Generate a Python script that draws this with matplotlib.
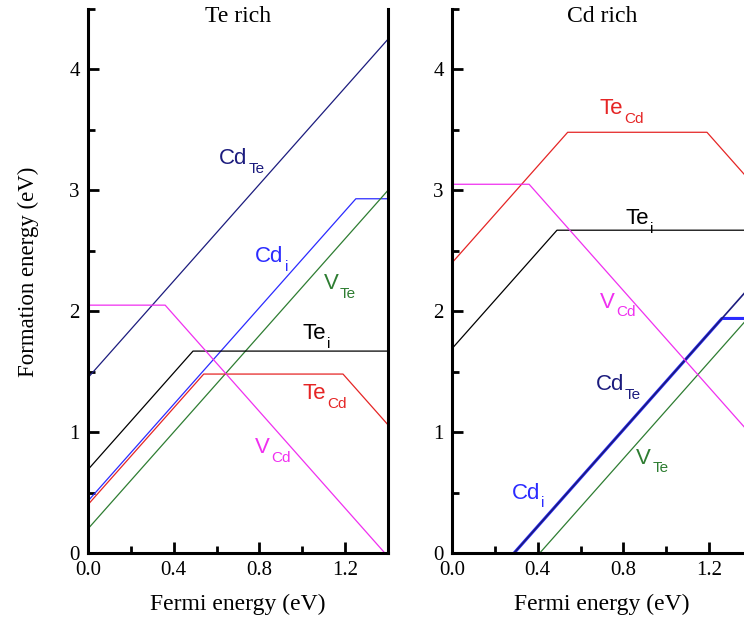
import numpy as np
import matplotlib
matplotlib.use("Agg")
import matplotlib.pyplot as plt
from matplotlib.ticker import MultipleLocator

# Fermi energy break points (eV) and formation energies (eV)
# Te rich
te_cdte_x = [0.0, 1.4]
te_cdte_y = [1.45, 4.25]
te_cdi_x = [0.0, 1.25, 1.4]
te_cdi_y = [0.43, 2.93, 2.93]
te_vte_x = [0.0, 1.4]
te_vte_y = [0.20, 3.00]
te_tei_x = [0.0, 0.49, 1.4]
te_tei_y = [0.69, 1.67, 1.67]
te_tecd_x = [0.0, 0.54, 1.19, 1.4]
te_tecd_y = [0.40, 1.48, 1.48, 1.06]
te_vcd_x = [0.0, 0.36, 1.4]
te_vcd_y = [2.05, 2.05, -0.03]

# Cd rich
cd_cdte_x = [0.0, 1.4]
cd_cdte_y = [-0.58, 2.22]
cd_cdi_x = [0.0, 1.26, 1.4]
cd_cdi_y = [-0.58, 1.94, 1.94]
cd_vte_x = [0.0, 1.4]
cd_vte_y = [-0.82, 1.98]
cd_tei_x = [0.0, 0.49, 1.4]
cd_tei_y = [1.69, 2.67, 2.67]
cd_tecd_x = [0.0, 0.54, 1.19, 1.4]
cd_tecd_y = [2.40, 3.48, 3.48, 3.06]
cd_vcd_x = [0.0, 0.36, 1.4]
cd_vcd_y = [3.05, 3.05, 0.97]

navy = "#1c1c7e"
blue = "#2b2bff"
green = "#2e7d32"
red = "#e52525"
magenta = "#f030f0"

# label text: (main, subscript, x, y baseline, colour)
te_labels = [("Cd", "Te", 0.61, 3.22, navy),
             ("Cd", "i", 0.78, 2.41, blue),
             ("V", "Te", 1.1, 2.18, green),
             ("Te", "i", 1.0, 1.77, "black"),
             ("Te", "Cd", 1.0, 1.27, red),
             ("V", "Cd", 0.78, 0.83, magenta)]
cd_labels = [("Te", "Cd", 0.69, 3.63, red),
             ("Te", "i", 0.81, 2.72, "black"),
             ("V", "Cd", 0.69, 2.03, magenta),
             ("Cd", "Te", 0.67, 1.35, navy),
             ("V", "Te", 0.86, 0.74, green),
             ("Cd", "i", 0.28, 0.45, blue)]

fig = plt.figure(figsize=(7.44, 6.23), dpi=100)
ax1 = fig.add_axes([0.1183, 0.1124, 0.4032, 0.8732])
ax2 = fig.add_axes([0.6075, 0.1124, 0.4032, 0.8732])

lw = 0.9
ax1.plot(te_cdte_x, te_cdte_y, color=navy, lw=lw)
ax1.plot(te_cdi_x, te_cdi_y, color=blue, lw=lw)
ax1.plot(te_vte_x, te_vte_y, color=green, lw=lw)
ax1.plot(te_tei_x, te_tei_y, color="black", lw=lw)
ax1.plot(te_tecd_x, te_tecd_y, color=red, lw=lw)
ax1.plot(te_vcd_x, te_vcd_y, color=magenta, lw=lw)

ax2.plot(cd_cdi_x, cd_cdi_y, color=blue, lw=2.2)
ax2.plot(cd_cdte_x, cd_cdte_y, color=navy, lw=1.2)
ax2.plot(cd_vte_x, cd_vte_y, color=green, lw=lw)
ax2.plot(cd_tei_x, cd_tei_y, color="black", lw=lw)
ax2.plot(cd_tecd_x, cd_tecd_y, color=red, lw=lw)
ax2.plot(cd_vcd_x, cd_vcd_y, color=magenta, lw=lw)

sans = "Liberation Sans"
serif = "Liberation Serif"
for ax, title in [(ax1, "Te rich"), (ax2, "Cd rich")]:
    ax.set_xlim(0, 1.4)
    ax.set_ylim(0, 4.5)
    ax.spines['top'].set_visible(False)
    for s in ['left', 'bottom', 'right']:
        ax.spines[s].set_linewidth(2.2)
    ax.xaxis.set_major_locator(MultipleLocator(0.4))
    ax.xaxis.set_minor_locator(MultipleLocator(0.2))
    ax.yaxis.set_major_locator(MultipleLocator(1))
    ax.yaxis.set_minor_locator(MultipleLocator(0.5))
    ax.tick_params(which='both', direction='in', top=False, right=False, width=2)
    ax.tick_params(which='major', length=8, labelsize=15, pad=6)
    ax.tick_params(which='minor', length=5)
    ax.set_xticks([0.0, 0.4, 0.8, 1.2])
    ax.set_xticklabels(["0.0", "0.4", "0.8", "1.2"], family=serif)
    for t in ax.get_yticklabels():
        t.set_family(serif)
    ax.set_xlabel("Fermi energy (eV)", family=serif, fontsize=17, labelpad=10)
    ax.text(0.5, 1.006, title, transform=ax.transAxes, ha="center", va="top",
            family=serif, fontsize=17)

ax1.set_ylabel("Formation energy (eV)", family=serif, fontsize=16.5)
ax1.yaxis.set_label_coords(-0.165, 0.517)

# defect labels: main text, then a lowered subscript right after it
mains = []
for ax, labels in [(ax1, te_labels), (ax2, cd_labels)]:
    for main, sub, x, y, c in labels:
        t = ax.text(x, y, main, color=c, family=sans, fontsize=16,
                    ha="left", va="baseline")
        mains.append((ax, t, sub, x, y, c))

fig.canvas.draw()
renderer = fig.canvas.get_renderer()
for ax, t, sub, x, y, c in mains:
    w = t.get_window_extent(renderer).width * 72.0 / fig.dpi
    ax.annotate(sub, xy=(x, y), xytext=(w + 0.8, 1.5), textcoords="offset points",
                color=c, family=sans, fontsize=11, ha="left", va="top")

fig.savefig("out.png", dpi=100)
